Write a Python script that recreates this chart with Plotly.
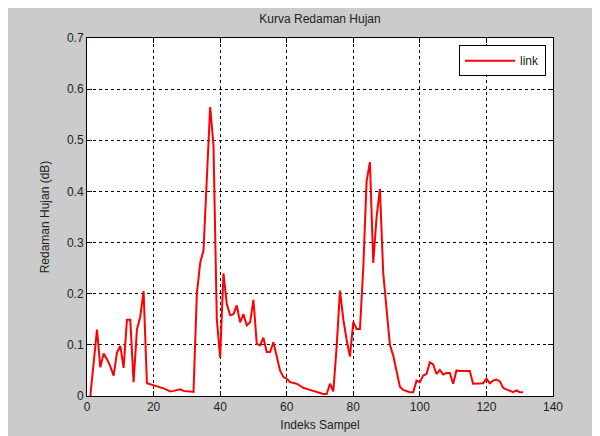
import plotly.graph_objects as go

# Sample indices and rain attenuation values (dB)
sample_index = list(range(1, 132))
attenuation = [
    0.0, 0.07, 0.13, 0.056, 0.083, 0.072, 0.058, 0.04, 0.085, 0.098,
    0.055, 0.149, 0.149, 0.027, 0.13, 0.155, 0.205, 0.025, 0.023, 0.022,
    0.02, 0.018, 0.015, 0.012, 0.009, 0.01, 0.011, 0.013, 0.01, 0.009,
    0.008, 0.008, 0.2, 0.26, 0.285, 0.44, 0.565, 0.49, 0.15, 0.075,
    0.24, 0.18, 0.158, 0.16, 0.177, 0.144, 0.16, 0.138, 0.144, 0.188,
    0.102, 0.099, 0.114, 0.086, 0.086, 0.105, 0.076, 0.05, 0.037, 0.034,
    0.027, 0.025, 0.024, 0.02, 0.016, 0.014, 0.012, 0.01, 0.0095, 0.006,
    0.004, 0.004, 0.024, 0.009, 0.096, 0.206, 0.15, 0.11, 0.077, 0.145,
    0.131, 0.131, 0.25, 0.42, 0.457, 0.26, 0.35, 0.405, 0.24, 0.17,
    0.1, 0.079, 0.045, 0.018, 0.012, 0.009, 0.0075, 0.0075, 0.03, 0.027,
    0.04, 0.043, 0.066, 0.062, 0.043, 0.051, 0.042, 0.045, 0.045, 0.024,
    0.05, 0.049, 0.049, 0.049, 0.049, 0.024, 0.024, 0.024, 0.025, 0.034,
    0.025, 0.03, 0.032, 0.029, 0.016, 0.013, 0.011, 0.0075, 0.011, 0.0075,
    0.0075,
]

x_ticks = [0, 20, 40, 60, 80, 100, 120, 140]
y_ticks = [0, 0.1, 0.2, 0.3, 0.4, 0.5, 0.6, 0.7]
y_tick_labels = ["0", "0.1", "0.2", "0.3", "0.4", "0.5", "0.6", "0.7"]

FONT = "Liberation Sans, Arial, sans-serif"
TXT = "#222222"

fig = go.Figure()
fig.add_trace(go.Scatter(
    x=sample_index, y=attenuation, mode="lines", name="link",
    line=dict(color="#ff0000", width=2),
))

axis_common = dict(
    showline=True, linecolor="black", linewidth=1, mirror="ticks",
    ticks="inside", ticklen=5, tickcolor="black",
    showgrid=True, gridcolor="black", griddash="dot", gridwidth=1,
    zeroline=False,
    tickfont=dict(family=FONT, size=12, color=TXT),
)

fig.update_layout(
    width=600, height=436,
    margin=dict(l=79, r=55, t=30, b=48),
    paper_bgcolor="#cbcbcb",
    plot_bgcolor="white",
    title=dict(text="Kurva Redaman Hujan", x=0.52, xanchor="center",
               y=0.975, yanchor="middle",
               font=dict(family=FONT, size=12, color=TXT)),
    xaxis=dict(range=[0, 140], tickvals=x_ticks,
               title=dict(text="Indeks Sampel", standoff=7,
                          font=dict(family=FONT, size=12, color=TXT)),
               **axis_common),
    yaxis=dict(range=[0, 0.7], tickvals=y_ticks, ticktext=y_tick_labels,
               title=dict(text="Redaman Hujan (dB)", standoff=14,
                          font=dict(family=FONT, size=12, color=TXT)),
               **axis_common),
    showlegend=True,
    legend=dict(x=0.985, y=0.98, xanchor="right", yanchor="top",
                bgcolor="white", bordercolor="black", borderwidth=1,
                itemwidth=50,
                font=dict(family=FONT, size=12, color=TXT)),
)

fig.write_html("out.html")
